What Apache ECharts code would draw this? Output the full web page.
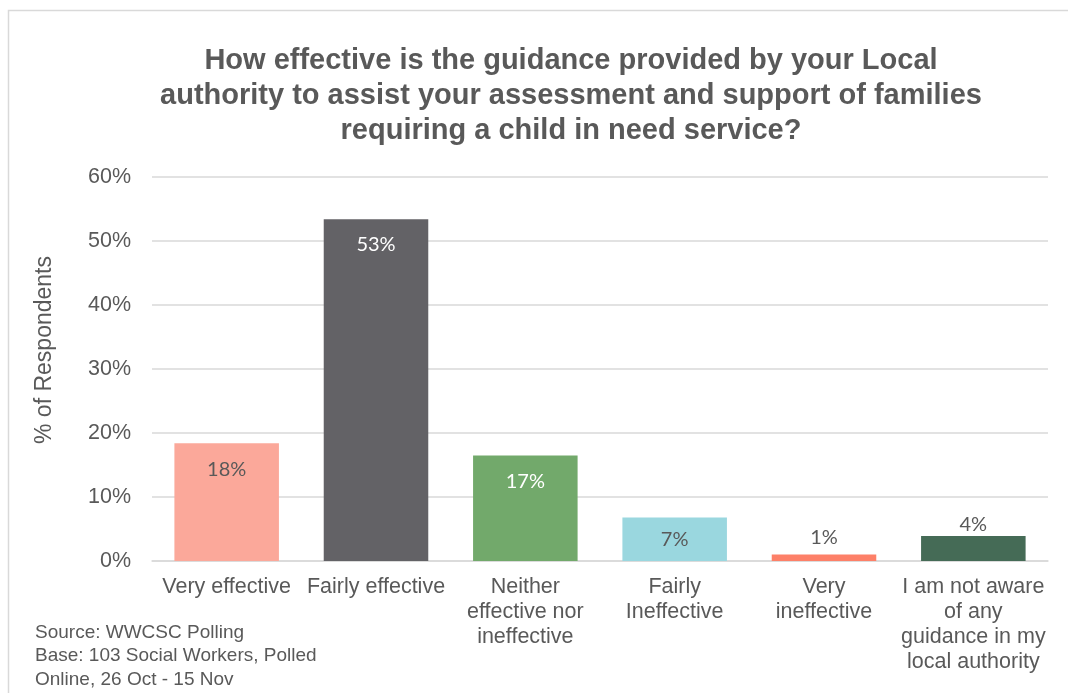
<!DOCTYPE html>
<html>
<head>
<meta charset="utf-8">
<script src="https://cdn.jsdelivr.net/npm/echarts@6/dist/echarts.min.js"></script>
<style>
  html, body { margin: 0; padding: 0; background: #ffffff; }
  #chart { width: 1068px; height: 693px; }
</style>
</head>
<body>
<div id="chart"></div>
<script>
// Survey responses (share of 103 social workers)
const categories = [
  'Very effective',
  'Fairly effective',
  'Neither\neffective nor\nineffective',
  'Fairly\nIneffective',
  'Very\nineffective',
  'I am not aware\nof any\nguidance in my\nlocal authority'
];
const percentages = [18.4, 53.4, 16.5, 6.8, 1.0, 3.9];
const barColors = ['#FBA89A', '#636266', '#72A96B', '#9AD7DF', '#FD8068', '#456B56'];
const labelColors = ['#595959', '#ffffff', '#ffffff', '#595959', '#595959', '#595959'];
const yTicks = [0, 10, 20, 30, 40, 50, 60];

const titleText = 'How effective is the guidance provided by your Local\nauthority to assist your assessment and support of families\nrequiring a child in need service?';
const yAxisTitle = '% of Respondents';
const sourceText = 'Source: WWCSC Polling\nBase: 103 Social Workers, Polled\nOnline, 26 Oct - 15 Nov';

const chart = echarts.init(document.getElementById('chart'), null, { renderer: 'canvas' });

// label placement per bar: inside the top of tall bars, above short ones
const labelDistance = [16, 15, 16, 12, 7, 1];

const seriesData = percentages.map((v, i) => {
  const small = v < 5;
  return {
    value: v,
    itemStyle: { color: barColors[i] },
    label: {
      show: true,
      position: small ? 'top' : 'insideTop',
      distance: labelDistance[i],
      color: labelColors[i]
    }
  };
});

chart.setOption({
  animation: false,
  backgroundColor: '#ffffff',
  title: {
    text: titleText,
    left: 566,
    top: 38,
    textAlign: 'center',
    textStyle: {
      fontFamily: 'Liberation Sans, Arial, sans-serif',
      fontWeight: 'bold',
      fontSize: 29,
      lineHeight: 35,
      color: '#595959'
    }
  },
  graphic: [
    {
      type: 'rect',
      shape: { x: 8.5, y: 10.5, width: 1100, height: 720 },
      style: { fill: 'none', stroke: '#D9D9D9', lineWidth: 1.5 },
      silent: true
    },
    {
      type: 'text',
      x: 45,
      y: 350,
      rotation: Math.PI / 2,
      style: {
        text: yAxisTitle,
        font: '23px "Liberation Sans", Arial, sans-serif',
        fill: '#595959',
        align: 'center',
        verticalAlign: 'middle'
      }
    },
    {
      type: 'text',
      left: 35,
      top: 621,
      style: {
        text: sourceText,
        font: '19px "Liberation Sans", Arial, sans-serif',
        lineHeight: 23.5,
        fill: '#595959'
      }
    }
  ],
  grid: {
    left: 152,
    right: 20,
    top: 177,
    bottom: 132,
    containLabel: false
  },
  xAxis: {
    type: 'category',
    data: categories,
    axisLine: { show: true, lineStyle: { color: '#D9D9D9', width: 1.5 } },
    axisTick: { show: false },
    axisLabel: {
      interval: 0,
      margin: 14,
      fontFamily: 'Liberation Sans, Arial, sans-serif',
      fontSize: 21.5,
      lineHeight: 25,
      color: '#595959',
      align: 'center'
    }
  },
  yAxis: {
    type: 'value',
    min: yTicks[0],
    max: yTicks[yTicks.length - 1],
    interval: 10,
    axisLine: { show: false },
    axisTick: { show: false },
    splitLine: { lineStyle: { color: '#D9D9D9', width: 1.5 } },
    axisLabel: {
      margin: 21,
      formatter: v => v + '%',
      fontFamily: 'Liberation Sans, Arial, sans-serif',
      fontSize: 21.5,
      color: '#595959'
    }
  },
  series: [{
    type: 'bar',
    data: seriesData,
    barWidth: '70%',
    label: {
      show: true,
      formatter: p => Math.round(p.value) + '%',
      fontFamily: 'Lato, "Open Sans", sans-serif',
      fontSize: 20
    }
  }]
});
</script>
</body>
</html>
